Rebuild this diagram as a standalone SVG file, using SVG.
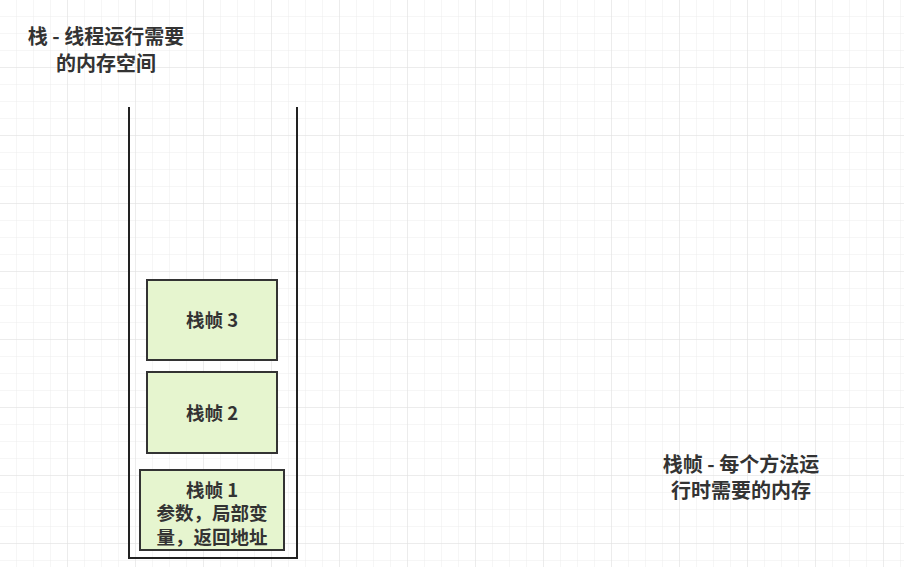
<svg xmlns="http://www.w3.org/2000/svg" width="904" height="567" viewBox="0 0 904 567">
<defs>
<pattern id="g" width="17" height="17" patternUnits="userSpaceOnUse"><path d="M17 0V17H0" fill="none" stroke="#ececec" stroke-width="1"/></pattern>
<pattern id="G" width="68" height="68" patternUnits="userSpaceOnUse"><rect width="68" height="68" fill="url(#g)"/><path d="M68 0V68H0" fill="none" stroke="#e2e2e2" stroke-width="1"/></pattern>
</defs>
<style>
.t{font-family:"Noto Sans CJK SC","Liberation Sans",sans-serif;font-weight:bold;font-size:20px;fill:#333;text-anchor:middle}
.b{font-size:18.5px}
.f{fill:#e6f5cf;stroke:#333;stroke-width:2}
</style>
<rect width="904" height="567" fill="#fff"/>
<rect width="904" height="567" fill="url(#G)"/>
<g id="title"><text class="t" x="106" y="44">栈 - 线程运行需要</text><text class="t" x="106" y="71">的内存空间</text></g>
<g id="stack"><path d="M129 107V558H297V107" fill="none" stroke="#222" stroke-width="2"/></g>
<g id="frame3"><rect class="f" x="147" y="280" width="130" height="80"/><text class="t b" x="212" y="327">栈帧 3</text></g>
<g id="frame2"><rect class="f" x="147" y="372" width="130" height="81"/><text class="t b" x="212" y="420">栈帧 2</text></g>
<g id="frame1"><rect class="f" x="140" y="470" width="144" height="80"/><text class="t b" x="212" y="497">栈帧 1</text><text class="t b" x="212" y="520">参数，局部变</text><text class="t b" x="212" y="544">量，返回地址</text></g>
<g id="note"><text class="t" x="741" y="472">栈帧 - 每个方法运</text><text class="t" x="741" y="498">行时需要的内存</text></g>
<g id="connectors"/>
</svg>
